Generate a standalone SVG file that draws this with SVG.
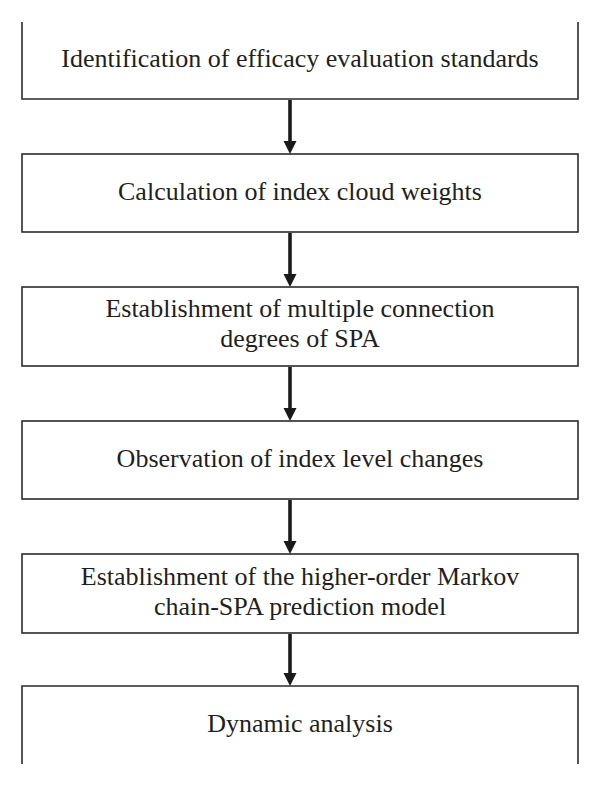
<svg xmlns="http://www.w3.org/2000/svg" width="600" height="786" viewBox="0 0 600 786">
<defs>
<style>
.box{fill:#fff;stroke:#2b2b2b;stroke-width:1.6}
.t{font-family:"Liberation Serif","Times New Roman",serif;font-size:26px;fill:#231f20;text-anchor:middle}
.shaft{stroke:#1a1a1a;stroke-width:3.6;fill:none}
.head{fill:#1a1a1a}
</style>
</defs>
<rect width="600" height="786" fill="#fff"/>
<g id="n1">
<path class="box" d="M22,22 V99 H578 V22"/>
<text class="t" x="300" y="67">Identification of efficacy evaluation standards</text>
</g>
<g id="n2">
<rect class="box" x="22" y="154" width="556" height="78"/>
<text class="t" x="300" y="200">Calculation of index cloud weights</text>
</g>
<g id="n3">
<rect class="box" x="22" y="287" width="556" height="79"/>
<text class="t" x="300" y="317">Establishment of multiple connection</text>
<text class="t" x="300" y="347">degrees of SPA</text>
</g>
<g id="n4">
<rect class="box" x="22" y="421" width="556" height="78"/>
<text class="t" x="300" y="467">Observation of index level changes</text>
</g>
<g id="n5">
<rect class="box" x="22" y="554" width="556" height="79"/>
<text class="t" x="300" y="585">Establishment of the higher-order Markov</text>
<text class="t" x="300" y="615">chain-SPA prediction model</text>
</g>
<g id="n6">
<path class="box" d="M22,764 V686 H578 V764"/>
<text class="t" x="300" y="732">Dynamic analysis</text>
</g>
<g id="connectors">
<line class="shaft" x1="290" y1="100" x2="290" y2="143"/>
<polygon class="head" points="283.5,141 296.5,141 290,154"/>
<line class="shaft" x1="290" y1="233" x2="290" y2="276"/>
<polygon class="head" points="283.5,274 296.5,274 290,287"/>
<line class="shaft" x1="290" y1="367" x2="290" y2="410"/>
<polygon class="head" points="283.5,408 296.5,408 290,421"/>
<line class="shaft" x1="290" y1="500" x2="290" y2="543"/>
<polygon class="head" points="283.5,541 296.5,541 290,554"/>
<line class="shaft" x1="290" y1="634" x2="290" y2="675"/>
<polygon class="head" points="283.5,673 296.5,673 290,686"/>
</g>
</svg>
